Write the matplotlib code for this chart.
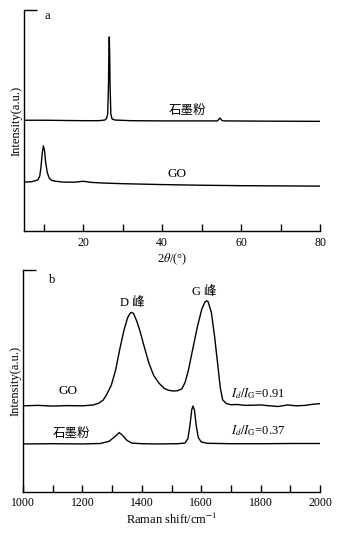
import numpy as np
import matplotlib
matplotlib.use("Agg")
import matplotlib.pyplot as plt

plt.rcParams['font.family'] = ['Liberation Serif', 'Noto Sans CJK SC']
plt.rcParams['mathtext.fontset'] = 'stix'
plt.rcParams['font.size'] = 9

# XRD patterns (panel a)
xrd_graphite_x = [5, 10, 15, 20, 24, 25.5, 25.9, 26.2, 26.4, 26.5, 26.6, 26.7, 26.8, 27.0, 27.3,
                  28, 32, 40, 50, 54, 54.6, 55.2, 56, 65, 80]
xrd_graphite_y = [0.502, 0.502, 0.501, 0.500, 0.500, 0.503, 0.510, 0.53, 0.66, 0.80, 0.879,
                  0.80, 0.66, 0.53, 0.508, 0.503, 0.500, 0.499, 0.499, 0.499, 0.512, 0.500,
                  0.499, 0.498, 0.497]
xrd_go_x = [5, 7, 8.5, 9.0, 9.3, 9.6, 9.9, 10.2, 10.5, 10.9, 11.4, 12.0, 13, 15, 18, 20,
            22, 25, 30, 40, 50, 60, 70, 80]
xrd_go_y = [0.222, 0.224, 0.232, 0.25, 0.29, 0.35, 0.386, 0.365, 0.31, 0.265, 0.24, 0.230,
            0.226, 0.222, 0.222, 0.226, 0.221, 0.218, 0.215, 0.211, 0.208, 0.206, 0.205, 0.204]

# Raman spectra (panel b)
raman_go_x = [1000, 1050, 1100, 1150, 1200, 1237, 1255, 1270, 1280, 1297, 1312, 1326, 1340,
              1352, 1358, 1364, 1372, 1383, 1394, 1408, 1424, 1440, 1458, 1475, 1490, 1505,
              1520, 1535, 1546, 1557, 1570, 1587, 1602, 1612, 1618, 1623, 1634, 1645, 1655,
              1664, 1672, 1685, 1700, 1720, 1750, 1800, 1830, 1860, 1890, 1920, 1950, 1975,
              2000]
raman_go_y = [0.388, 0.390, 0.387, 0.389, 0.388, 0.392, 0.400, 0.414, 0.435, 0.48, 0.55,
              0.645, 0.73, 0.785, 0.80, 0.81, 0.805, 0.77, 0.725, 0.655, 0.58, 0.525, 0.49,
              0.467, 0.458, 0.455, 0.456, 0.465, 0.495, 0.55, 0.635, 0.745, 0.825, 0.855,
              0.862, 0.858, 0.81, 0.70, 0.58, 0.47, 0.415, 0.398, 0.393, 0.394, 0.390,
              0.392, 0.388, 0.385, 0.392, 0.388, 0.390, 0.395, 0.398]
raman_graphite_x = [1000, 1100, 1200, 1260, 1290, 1310, 1324, 1335, 1350, 1366, 1400, 1450,
                    1520, 1545, 1555, 1562, 1568, 1572, 1577, 1583, 1590, 1600, 1620, 1700,
                    1800, 1900, 2000]
raman_graphite_y = [0.216, 0.217, 0.216, 0.218, 0.228, 0.250, 0.267, 0.255, 0.232, 0.220,
                    0.217, 0.216, 0.217, 0.220, 0.240, 0.30, 0.37, 0.387, 0.37, 0.30, 0.245,
                    0.225, 0.219, 0.217, 0.217, 0.218, 0.218]

fig = plt.figure(figsize=(3.38, 5.34), dpi=100)
ax1 = fig.add_axes([0.071, 0.567, 0.876, 0.414])
ax2 = fig.add_axes([0.068, 0.079, 0.879, 0.415])


def style(ax):
    for s in ['top', 'right']:
        ax.spines[s].set_visible(False)
    for s in ['left', 'bottom']:
        ax.spines[s].set_linewidth(1.0)
    ax.tick_params(axis='x', direction='in', length=5, width=1.0, pad=4, labelsize=8.5)
    ax.tick_params(axis='y', direction='in', length=9, width=1.0, labelleft=False)
    ax.set_ylim(0, 1)
    ax.set_yticks([1])


# panel a
ax1.plot(xrd_graphite_x, xrd_graphite_y, color='black', lw=1.0)
ax1.plot(xrd_go_x, xrd_go_y, color='black', lw=1.0)
style(ax1)
ax1.set_xlim(5, 80)
ax1.set_xticks(np.arange(10, 81, 10))
ax1.set_xticklabels(['' if v % 20 else str(v) for v in range(10, 81, 10)])
ax1.set_xlabel(r'2$\theta$/(°)', labelpad=2)
ax1.set_ylabel('Intensity(a.u.)', labelpad=1)
ax1.text(11, 0.975, 'a', ha='center', va='center')
ax1.text(46.3, 0.545, '石墨粉', ha='center', va='center', family='Noto Sans CJK SC')
ax1.text(43.7, 0.26, 'GO', ha='center', va='center', fontsize=9.5)

# panel b
ax2.plot(raman_go_x, raman_go_y, color='black', lw=1.0)
ax2.plot(raman_graphite_x, raman_graphite_y, color='black', lw=1.0)
style(ax2)
ax2.set_xlim(1000, 2000)
ax2.set_xticks(np.arange(1000, 2001, 100))
ax2.set_xticklabels(['' if v % 200 else str(v) for v in range(1000, 2001, 100)])
ax2.set_xlabel(r'Raman shift/cm$^{-1}$', labelpad=2)
ax2.set_ylabel('Intensity(a.u.)', labelpad=1)
ax2.text(1097, 0.955, 'b', ha='center', va='center')
ax2.text(1367, 0.85, 'D 峰', ha='center', va='center')
ax2.text(1609, 0.90, 'G 峰', ha='center', va='center')
ax2.text(1152, 0.455, 'GO', ha='center', va='center', fontsize=9.5)
ax2.text(1163, 0.265, '石墨粉', ha='center', va='center', family='Noto Sans CJK SC')
ax2.text(1792, 0.445, r'$I_d/I_{\rm G}$=0.91', ha='center', va='center')
ax2.text(1792, 0.275, r'$I_d/I_{\rm G}$=0.37', ha='center', va='center')

fig.savefig('out.png', dpi=100)
